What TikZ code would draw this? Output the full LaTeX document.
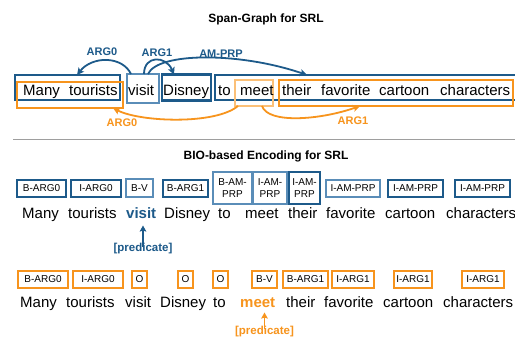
\documentclass[tikz,border=0pt]{standalone}
\usepackage{fontspec}
\setmainfont{Liberation Sans}
\usetikzlibrary{arrows.meta}
\definecolor{srlblue}{HTML}{1D5A8A}
\definecolor{srllight}{HTML}{5A8DB8}
\definecolor{srlorange}{HTML}{F7941D}
\definecolor{srllorange}{HTML}{FBC078}
\begin{document}
\begin{tikzpicture}[x=1pt,y=-1pt,
  word/.style={anchor=base west,inner sep=0,font=\fontsize{15}{18}\selectfont},
  ttl/.style={anchor=base,inner sep=0,font=\fontsize{12}{14}\selectfont\bfseries},
  bspan/.style={draw=srlblue,line width=2.2,inner sep=0,outer sep=0},
  bspanl/.style={draw=srllight,line width=1.2,inner sep=0,outer sep=0},
  ospan/.style={draw=srlorange,line width=2,inner sep=0,outer sep=0},
  ospanl/.style={draw=srllorange,line width=1.2,inner sep=0,outer sep=0},
  barrow/.style={draw=srlblue,line width=1.8,-{Stealth[length=7,width=7,inset=1.5]}},
  oarrow/.style={draw=srlorange,line width=1.8,-{Stealth[length=7,width=7,inset=1.5]}},
  blab/.style={text=srlblue,inner sep=0,font=\fontsize{11}{13}\selectfont\bfseries},
  olab/.style={text=srlorange,inner sep=0,font=\fontsize{11}{13}\selectfont\bfseries},
  btag/.style={draw=srlblue,line width=1.3,inner sep=0,outer sep=0,align=center,font=\fontsize{10}{12}\selectfont},
  btagl/.style={btag,draw=srllight},
  otag/.style={draw=srlorange,line width=1.2,inner sep=0,outer sep=0,align=center,font=\fontsize{10}{12}\selectfont},
  predlab/.style={anchor=base,inner sep=0,font=\fontsize{11.5}{13}\selectfont\bfseries},
]
\clip (0,0) rectangle (515,338);
\fill[white] (0,0) rectangle (515,338);

% ---------- titles ----------
\node[ttl] (t1) at (266,22.5) {Span-Graph for SRL};
\node[ttl] (t2) at (266,159) {BIO-based Encoding for SRL};
\coordinate (sepL) at (13,139.5);
\coordinate (sepR) at (515,139.5);
\draw[draw=black!38,line width=1.5] (sepL) -- (sepR);

% ---------- span graph ----------
\node[bspan,minimum width=105,minimum height=25] (bA0) at (67.5,87.5) {};
\node[bspanl,minimum width=32,minimum height=29] (bV) at (143,88.5) {};
\node[bspan,minimum width=49,minimum height=26] (bA1) at (186.5,87.5) {};
\node[bspan,minimum width=310,minimum height=25] (bAM) at (370,87.5) {};
\node[ospan,minimum width=106,minimum height=26] (oA0) at (70,95) {};
\node[ospanl,minimum width=38,minimum height=26] (oV) at (254,93) {};
\node[ospan,minimum width=234,minimum height=26] (oA1) at (396,93) {};

\node[word] (a1) at (23,95.5) {Many};
\node[word] (a2) at (69,95.5) {tourists};
\node[word] (a3) at (128,95.5) {visit};
\node[word] (a4) at (163,95.5) {Disney};
\node[word] (a5) at (218,95.5) {to};
\node[word] (a6) at (240,95.5) {meet};
\node[word] (a7) at (282,95.5) {their};
\node[word] (a8) at (321,95.5) {favorite};
\node[word] (a9) at (379,95.5) {cartoon};
\node[word] (a10) at (440,95.5) {characters};

\draw[barrow] ([xshift=4]bV.north west) .. controls +(-9,-18.5) and +(15,-19) .. ([xshift=9.5]bA0.north);
\draw[barrow] ([xshift=17]bV.north west) .. controls +(0,-19) and +(-8,-19) .. ([xshift=-12.5]bA1.north);
\draw[barrow] ([xshift=21]bV.north west) .. controls +(10,-22) and +(-67,-23) .. ([xshift=92]bAM.north west);
\node[blab] (lA0) at (102,52) {ARG0};
\node[blab] (lA1) at (157,52.5) {ARG1};
\node[blab] (lAM) at (221,53.5) {AM-PRP};

\draw[oarrow] ([xshift=3]oV.south west) .. controls +(-23,19) and +(27,14) .. ([xshift=-10]oA0.south east);
\draw[oarrow] ([xshift=27]oV.south west) .. controls +(6,18) and +(-40,14) .. ([xshift=81]oA1.south west);
\node[olab] (mA0) at (122,123) {ARG0};
\node[olab] (mA1) at (353,121) {ARG1};

% ---------- BIO row (blue) ----------
\node[btag,minimum width=49,minimum height=17] (g1) at (41.5,188.5) {B-ARG0};
\node[btag,minimum width=50,minimum height=17] (g2) at (96,188.5) {I-ARG0};
\node[btagl,minimum width=27,minimum height=18] (g3) at (139.5,188) {B-V};
\node[btag,minimum width=45,minimum height=17] (g4) at (185.5,188.5) {B-ARG1};
\node[btagl,minimum width=39,minimum height=32] (g5) at (232.5,188) {B-AM-\\PRP};
\node[btagl,minimum width=34,minimum height=32] (g6) at (270,188) {I-AM-\\PRP};
\node[btag,minimum width=31,minimum height=32] (g7) at (304.5,188) {I-AM-\\PRP};
\node[btagl,minimum width=54,minimum height=17] (g8) at (353,188.5) {I-AM-PRP};
\node[btag,minimum width=55,minimum height=17] (g9) at (415.5,188.5) {I-AM-PRP};
\node[btag,minimum width=55,minimum height=17] (g10) at (482.5,188.5) {I-AM-PRP};

\node[word] (b1) at (22,218) {Many};
\node[word] (b2) at (68,218) {tourists};
\node[word,text=srlblue,font=\fontsize{15}{18}\selectfont\bfseries] (b3) at (126,218) {visit};
\node[word] (b4) at (164,218) {Disney};
\node[word] (b5) at (218,218) {to};
\node[word] (b6) at (245,218) {meet};
\node[word] (b7) at (288,218) {their};
\node[word] (b8) at (326,218) {favorite};
\node[word] (b9) at (385,218) {cartoon};
\node[word] (b10) at (446,218) {characters};

\node[predlab,text=srlblue] (p1) at (143,251) {[predicate]};
\coordinate (p1tip) at (143,225.5);
\draw[draw=srlblue,line width=1.8,-{Stealth[length=6,width=6.5,inset=1]}] ([yshift=-4.5]p1.north) -- (p1tip);

% ---------- BIO row (orange) ----------
\node[otag,minimum width=50,minimum height=17] (h1) at (43,279.5) {B-ARG0};
\node[otag,minimum width=50,minimum height=17] (h2) at (98,279.5) {I-ARG0};
\node[otag,minimum width=15,minimum height=17] (h3) at (139.5,279.5) {O};
\node[otag,minimum width=15,minimum height=17] (h4) at (185.5,279.5) {O};
\node[otag,minimum width=15,minimum height=17] (h5) at (220.5,279.5) {O};
\node[otag,minimum width=25,minimum height=17] (h6) at (264.5,279.5) {B-V};
\node[otag,minimum width=45,minimum height=17] (h7) at (305.5,279.5) {B-ARG1};
\node[otag,minimum width=42,minimum height=17] (h8) at (353,279.5) {I-ARG1};
\node[otag,minimum width=38,minimum height=17] (h9) at (413,279.5) {I-ARG1};
\node[otag,minimum width=42,minimum height=17] (h10) at (483,279.5) {I-ARG1};

\node[word] (c1) at (20,307) {Many};
\node[word] (c2) at (66,307) {tourists};
\node[word] (c3) at (125,307) {visit};
\node[word] (c4) at (160,307) {Disney};
\node[word] (c5) at (213,307) {to};
\node[word,text=srlorange,font=\fontsize{15}{18}\selectfont\bfseries] (c6) at (240,307) {meet};
\node[word] (c7) at (286,307) {their};
\node[word] (c8) at (324,307) {favorite};
\node[word] (c9) at (383,307) {cartoon};
\node[word] (c10) at (443,307) {characters};

\node[predlab,text=srlorange] (p2) at (264.5,334.5) {[predicate]};
\coordinate (p2tip) at (264.5,312.5);
\draw[draw=srlorange,line width=1.8,-{Stealth[length=6,width=6.5,inset=1]}] ([yshift=-3]p2.north) -- (p2tip);
\end{tikzpicture}
\end{document}
